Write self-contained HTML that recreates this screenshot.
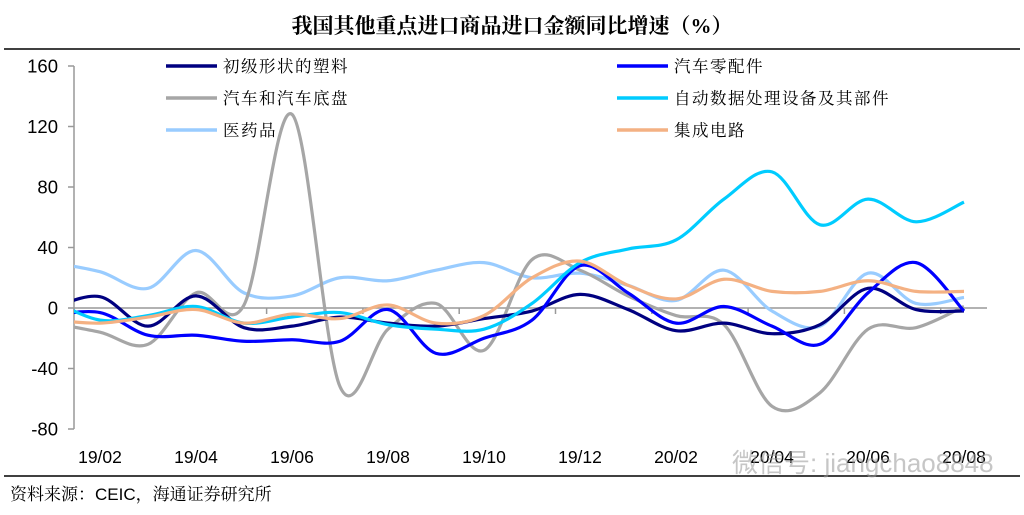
<!DOCTYPE html>
<html><head><meta charset="utf-8">
<style>
html,body{margin:0;padding:0;background:#fff;}
body{width:1024px;height:510px;overflow:hidden;position:relative;font-family:"Liberation Sans","Noto Sans CJK SC",sans-serif;}
</style></head>
<body>
<svg width="1024" height="510" viewBox="0 0 1024 510" xmlns="http://www.w3.org/2000/svg">
  <text x="512" y="33" text-anchor="middle" font-size="21" font-weight="bold" font-family="'Liberation Serif','Noto Serif CJK SC',serif" fill="#000">我国其他重点进口商品进口金额同比增速（%）</text>
  <line x1="4" y1="49" x2="1020" y2="49" stroke="#000" stroke-width="1.5"/>
  <line x1="4" y1="476" x2="1020" y2="476" stroke="#000" stroke-width="1.5"/>
  <text x="10" y="500" font-size="17" font-family="'Liberation Sans','Noto Serif CJK SC',sans-serif" fill="#000">资料来源：CEIC，海通证券研究所</text>
  <g id="axes"></g>
  <defs><clipPath id="plotclip"><rect x="74" y="40" width="930" height="420"/></clipPath></defs>
  <g id="series" clip-path="url(#plotclip)"></g>
  <g id="legend"></g>
  <text x="732" y="472" font-size="26" fill="#999" opacity="0.55">微信号: jiangchao8848</text>
</svg>
<script>
const months = ["19/01","19/02","19/03","19/04","19/05","19/06","19/07","19/08","19/09","19/10","19/11","19/12","20/01","20/02","20/03","20/04","20/05","20/06","20/07","20/08"];
const yTicks = [160,120,80,40,0,-40,-80];
const xTickLabels = ["19/02","19/04","19/06","19/08","19/10","19/12","20/02","20/04","20/06","20/08"];
const plastics = [0,7.5,-12,8,-13,-12,-6,-10,-12,-7,-2,9,-1,-15,-10,-17,-11,13,-1,-2];
const autoParts = [-5,-3,-18,-18,-22,-21,-22,-1,-30,-20,-8,28,10,-10,1,-12,-24,10,30,-2];
const autos = [-10,-16,-24,10,2,128,-52,-14,3,-28,32,25,8,-5,-11,-65,-56,-14,-13,1];
const computers = [5,-8,-5,1,-10,-6,-3,-11,-14,-14,3,30,39,45,72,90,55,72,57,70];
const pharma = [30,24,13,38,10,8,20,18,25,30,20,23,15,5,25,-2,-12,23,3,7];
const chips = [-8,-10,-6,-1,-10,-4,-7,2,-10,-5,20,31,15,6,19,11,11,18,11,11];
const seriesNames = ["初级形状的塑料","汽车零配件","汽车和汽车底盘","自动数据处理设备及其部件","医药品","集成电路"];
const seriesColors = ["#000080","#0000ff","#a6a6a6","#00ccff","#99ccff","#f4b183"];
const seriesData = [plastics,autoParts,autos,computers,pharma,chips];
const seriesKeys = ["plastics","auto-parts","autos","computers","pharma","chips"];

const NS="http://www.w3.org/2000/svg";
function X(i){return 52+48*i;}
function Y(v){return 308 - v*60.5/40;}
function mk(tag,attrs,parent){const e=document.createElementNS(NS,tag);for(const k in attrs)e.setAttribute(k,attrs[k]);parent.appendChild(e);return e;}
const axes=document.getElementById('axes');
let ya=mk('line',{x1:74,y1:Y(160),x2:74,y2:Y(-80),stroke:'#999','stroke-width':1.5},axes);


yTicks.forEach(v=>{
  let t=mk('line',{x1:68,y1:Y(v),x2:74,y2:Y(v),stroke:'#999','stroke-width':1.5},axes);
  
  
  let l=mk('text',{x:58,y:Y(v)+6.5,'text-anchor':'end','font-size':18.5,fill:'#000'},axes);
  l.textContent=v;
  
  
});
let xa=mk('line',{x1:74,y1:Y(0),x2:987,y2:Y(0),stroke:'#999','stroke-width':1.5},axes);


for(let k=0;k<10;k++){
  const tx=74+96.3*k;
  let t=mk('line',{x1:tx,y1:Y(0),x2:tx,y2:Y(0)+6,stroke:'#999','stroke-width':1.5},axes);
  
  
}
xTickLabels.forEach(lab=>{
  const i=months.indexOf(lab);
  let l=mk('text',{x:X(i),y:463,'text-anchor':'middle','font-size':17.5,fill:'#000'},axes);
  l.textContent=lab;
  
  
});
function smoothPath(vals){
  const p=vals.map((v,i)=>[X(i),Y(v)]);
  let d=`M${p[0][0]},${p[0][1]}`;
  for(let i=0;i<p.length-1;i++){
    const p0=p[Math.max(0,i-1)],p1=p[i],p2=p[i+1],p3=p[Math.min(p.length-1,i+2)];
    const c1=[p1[0]+(p2[0]-p0[0])/6,p1[1]+(p2[1]-p0[1])/6];
    const c2=[p2[0]-(p3[0]-p1[0])/6,p2[1]-(p3[1]-p1[1])/6];
    d+=` C${c1[0]},${c1[1]} ${c2[0]},${c2[1]} ${p2[0]},${p2[1]}`;
  }
  return d;
}
const sg=document.getElementById('series');
const order=[4,2,0,1,3,5];
order.forEach(s=>{
  let path=mk('path',{d:smoothPath(seriesData[s]),fill:'none',stroke:seriesColors[s],'stroke-width':3.2,'stroke-linejoin':'round'},sg);
  
  
});
const lg=document.getElementById('legend');
const legPos=[[166,66],[617,66],[166,98],[617,98],[166,130],[617,130]];
seriesNames.forEach((n,s)=>{
  const [lx,ly]=legPos[s];
  let g=mk('g',{},lg);
  
  
  mk('line',{x1:lx,y1:ly,x2:lx+51,y2:ly,stroke:seriesColors[s],'stroke-width':3.5},g);
  let t=mk('text',{x:lx+57,y:ly+6,'font-size':16.5,fill:'#000','letter-spacing':'1.5','font-family':"'Liberation Serif','Noto Serif CJK SC',serif"},g);
  t.textContent=n;
});
</script>
</body></html>
